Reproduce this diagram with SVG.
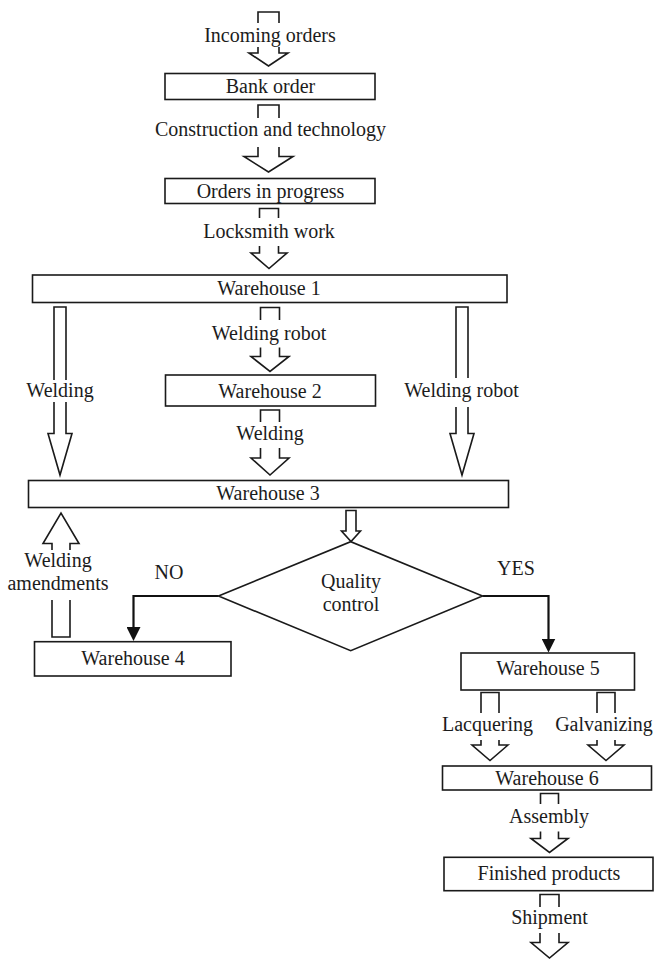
<svg xmlns="http://www.w3.org/2000/svg" width="654" height="960" viewBox="0 0 654 960">
  <style>
    .box { fill: #ffffff; stroke: #1a1a1a; stroke-width: 1.6; }
    .blk { fill: none; stroke: #1a1a1a; stroke-width: 1.6; stroke-linejoin: miter; }
    .blkf { fill: #ffffff; stroke: #1a1a1a; stroke-width: 1.6; }
    .flow { fill: none; stroke: #111111; stroke-width: 2.2; }
    text { font-family: "Liberation Serif", "Times New Roman", serif; font-size: 20px; fill: #1c1c1c; text-anchor: middle; }
  </style>
  <defs>
    <marker id="solidHead" markerUnits="userSpaceOnUse" markerWidth="14" markerHeight="14" refX="10" refY="7" orient="auto">
      <path d="M0,0 L14,7 L0,14 z" fill="#111111"/>
    </marker>
  </defs>

  <rect width="654" height="960" fill="#ffffff"/>

  <!-- block arrows and their labels -->
  <g id="connectors">
    <!-- incoming orders -->
    <path class="blk" d="M258,23 V12 H279 V23"/>
    <text x="270" y="41.5">Incoming orders</text>
    <path class="blk" d="M258,47 V53 H249 L268.5,66 L288,53 H279 V47"/>

    <!-- construction and technology -->
    <path class="blk" d="M258,118 V105 H279 V118"/>
    <text x="270.5" y="136">Construction and technology</text>
    <path class="blk" d="M258,147 V156.5 H244 L268.5,172 L293,156.5 H279 V147"/>

    <!-- locksmith work -->
    <path class="blk" d="M259.5,218 V208.5 H278.5 V218"/>
    <text x="269" y="238">Locksmith work</text>
    <path class="blk" d="M259.5,246 V253 H251 L269,268.5 L287,253 H278.5 V246"/>

    <!-- welding (left, long) -->
    <path class="blk" d="M54,380 V307 H66 V380"/>
    <text x="60" y="397">Welding</text>
    <path class="blk" d="M54,402 V433.5 H48 L60,475 L72,433.5 H66 V402"/>

    <!-- welding robot (middle) -->
    <path class="blk" d="M260.5,320 V307.5 H279.5 V320"/>
    <text x="269" y="340">Welding robot</text>
    <path class="blk" d="M260.5,347.5 V356.5 H251 L270,371.5 L289,356.5 H279.5 V347.5"/>

    <!-- welding robot (right, long) -->
    <path class="blk" d="M456,378 V307 H468 V378"/>
    <text x="461.5" y="397">Welding robot</text>
    <path class="blk" d="M456,407 V433.5 H450 L462,475 L474,433.5 H468 V407"/>

    <!-- welding (middle) -->
    <path class="blk" d="M260.5,422 V410 H279.5 V422"/>
    <text x="270" y="440">Welding</text>
    <path class="blk" d="M260.5,448 V458 H251 L270,475 L289,458 H279.5 V448"/>

    <!-- warehouse 3 to quality control -->
    <path class="blkf" d="M346,510.5 H356 V531 H360.5 L351,541.5 L341.5,531 H346 Z"/>

    <!-- welding amendments (back up to warehouse 3) -->
    <path class="blk" d="M52,550 V543.5 H43 L61,513 L79,543.5 H70 V550"/>
    <text x="58" y="566.5">Welding</text>
    <text x="58" y="589.5">amendments</text>
    <path class="blk" d="M52,600 V637 H70 V600"/>

    <!-- decision branches -->
    <path class="flow" d="M218.5,596 H133.5 V637" marker-end="url(#solidHead)"/>
    <text x="169" y="579">NO</text>
    <path class="flow" d="M482.5,596 H548.5 V648.5" marker-end="url(#solidHead)"/>
    <text x="516" y="575">YES</text>

    <!-- lacquering -->
    <path class="blk" d="M481,713 V692.5 H499 V713"/>
    <text x="487.5" y="731">Lacquering</text>
    <path class="blk" d="M481,740 V745 H472 L490,760.5 L508,745 H499 V740"/>

    <!-- galvanizing -->
    <path class="blk" d="M597,713 V692.5 H615 V713"/>
    <text x="604" y="731">Galvanizing</text>
    <path class="blk" d="M597,740 V745 H588 L606,760.5 L624,745 H615 V740"/>

    <!-- assembly -->
    <path class="blk" d="M540.5,804 V793.5 H558.5 V804"/>
    <text x="549" y="823">Assembly</text>
    <path class="blk" d="M540.5,831.5 V838.5 H531 L549.5,852.5 L568,838.5 H558.5 V831.5"/>

    <!-- shipment -->
    <path class="blk" d="M540,907 V894.5 H559 V907"/>
    <text x="549.5" y="924">Shipment</text>
    <path class="blk" d="M540,933 V942.5 H531 L549.5,958 L568,942.5 H559 V933"/>
  </g>

  <g id="bank-order">
    <rect class="box" x="165" y="73.5" width="210" height="26"/>
    <text x="270.5" y="93">Bank order</text>
  </g>

  <g id="orders-in-progress">
    <rect class="box" x="165" y="178.5" width="210" height="25"/>
    <text x="270.5" y="197.5">Orders in progress</text>
  </g>

  <g id="warehouse-1">
    <rect class="box" x="32.5" y="275" width="474.5" height="27.5"/>
    <text x="269" y="295">Warehouse 1</text>
  </g>

  <g id="warehouse-2">
    <rect class="box" x="165.5" y="375" width="210" height="31"/>
    <text x="270" y="397.5">Warehouse 2</text>
  </g>

  <g id="warehouse-3">
    <rect class="box" x="28.5" y="480.5" width="480" height="27"/>
    <text x="268" y="500">Warehouse 3</text>
  </g>

  <g id="quality-control">
    <polygon class="box" points="218.5,596 350.7,541.7 482.5,596 350.7,650.7"/>
    <text x="351" y="588">Quality</text>
    <text x="351" y="611">control</text>
  </g>

  <g id="warehouse-4">
    <rect class="box" x="34.5" y="641.7" width="196.5" height="34.3"/>
    <text x="133" y="665">Warehouse 4</text>
  </g>

  <g id="warehouse-5">
    <rect class="box" x="461" y="653" width="173.5" height="37"/>
    <text x="548" y="675">Warehouse 5</text>
  </g>

  <g id="warehouse-6">
    <rect class="box" x="442.5" y="766" width="209" height="24"/>
    <text x="547" y="785">Warehouse 6</text>
  </g>

  <g id="finished-products">
    <rect class="box" x="444" y="857.3" width="209" height="33.4"/>
    <text x="549" y="880">Finished products</text>
  </g>
</svg>
